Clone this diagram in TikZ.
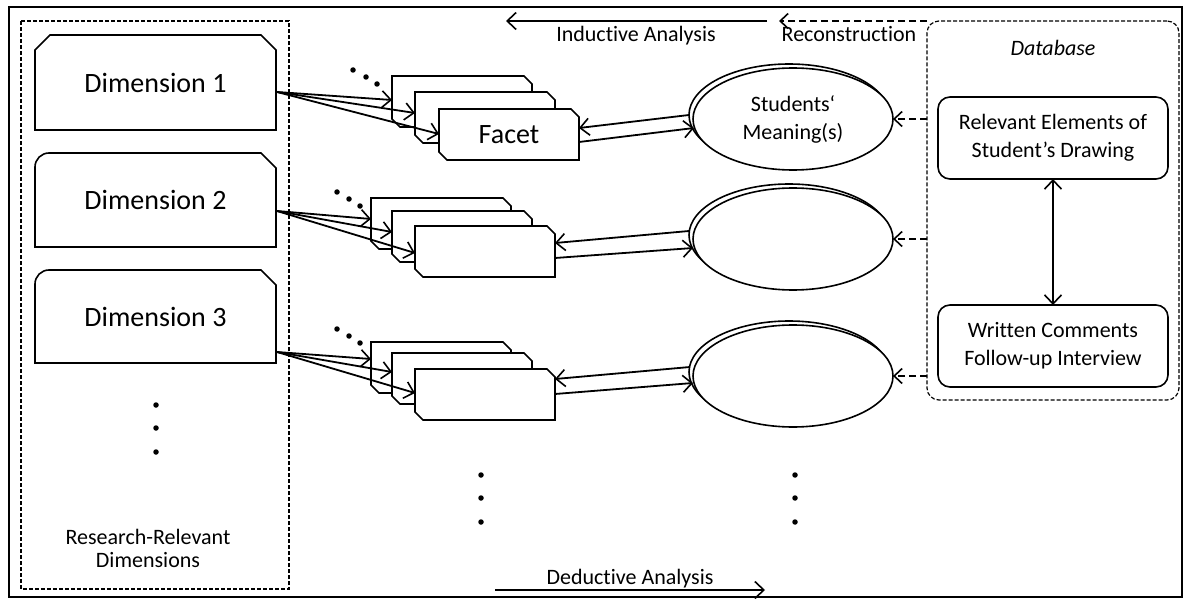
\documentclass[tikz,border=0pt]{standalone}
\usepackage{fontspec}
\setmainfont{Carlito}[Ligatures=NoCommon]
\usetikzlibrary{arrows.meta,shapes.geometric,calc}

\tikzset{
  boxline/.style={line width=1.6pt, draw=black},
  thindash/.style={line width=1.2pt, dash pattern=on 4pt off 2pt},
  barb/.style={-{Straight Barb[length=9pt,width=17pt,line width=1.6pt]}},
  conn/.style={line width=1.8pt, barb},
  dblconn/.style={line width=1.8pt, {Straight Barb[length=9pt,width=17pt,line width=1.6pt]}-{Straight Barb[length=9pt,width=17pt,line width=1.6pt]}},
  dasharrow/.style={line width=1.8pt, dash pattern=on 7pt off 4pt, -{Straight Barb[length=8pt,width=15pt,line width=1.6pt]}},
  bigtext/.style={font=\fontsize{28}{32}\selectfont},
  smalltext/.style={font=\fontsize{22}{28}\selectfont, align=center, inner sep=0pt},
  dimnode/.style={rectangle, minimum width=241pt, inner sep=0pt, outer sep=0pt, bigtext},
  facetnode/.style={rectangle, minimum width=140pt, minimum height=51pt, inner sep=0pt, outer sep=0pt, bigtext},
  meaning/.style={ellipse, draw, line width=1.6pt, fill=white, minimum width=200pt, minimum height=102pt, inner sep=0pt, outer sep=0pt, smalltext},
  dbitem/.style={rectangle, draw, line width=1.6pt, rounded corners=12pt, minimum width=230pt, minimum height=82pt, inner sep=0pt, outer sep=0pt, smalltext},
  dotmark/.style={circle, fill=black, inner sep=0pt, minimum size=5.5pt},
}

% chamfered facet card: name, left x, top y, label
\newcommand\facetcard[4]{%
  \draw[boxline,fill=white] (#2,#3) -- ({#2+132},#3) -- ({#2+140},{#3+8}) -- ({#2+140},{#3+51})
    -- ({#2+8},{#3+51}) -- (#2,{#3+43}) -- cycle;
  \node[facetnode] (#1) at ({#2+70},{#3+25.5}) {#4};
}

\begin{document}
\begin{tikzpicture}[x=1pt,y=-1pt]
\useasboundingbox (0,0) rectangle (1184,599);

% outer frame
\draw[line width=2pt] (9,7) rectangle (1182,597);

% research-relevant dimensions
\draw[thindash] (21,21) rectangle (289,589);

\draw[boxline] (35,130) -- (35,50) -- (50,35) -- (261,35) -- (276,50) -- (276,130) -- cycle;
\node[dimnode, minimum height=95pt] (d1) at (155.5,82.5) {Dimension 1};
\draw[boxline] (35,247) [rounded corners=14pt] -- (35,153) [sharp corners] -- (261,153) -- (276,168) -- (276,247) -- cycle;
\node[dimnode, minimum height=94pt] (d2) at (155.5,200) {Dimension 2};
\draw[boxline] (35,363) [rounded corners=14pt] -- (35,270) [sharp corners] -- (261,270) -- (276,285) -- (276,363) -- cycle;
\node[dimnode, minimum height=93pt] (d3) at (155.5,316.5) {Dimension 3};

\node[dotmark] (ld1) at (156,405) {};
\node[dotmark] (ld2) at (156,428) {};
\node[dotmark] (ld3) at (156,452) {};
\node[smalltext, font=\fontsize{22}{23}\selectfont] (rrd) at (148,548) {Research-Relevant\\Dimensions};

% facet stacks
\facetcard{f11}{392}{76}{}
\facetcard{f12}{415}{92}{}
\facetcard{f13}{439}{109}{Facet}

\facetcard{f21}{371}{198}{}
\facetcard{f22}{392}{211}{}
\facetcard{f23}{415}{226}{}

\facetcard{f31}{371}{342}{}
\facetcard{f32}{392}{353}{}
\facetcard{f33}{415}{369}{}

% dimension -> facets
\coordinate (s1) at ($(d1.north east)+(1,57)$);
\draw[conn] (s1) -- ($(f11.north west)+(0,24)$);
\draw[conn] (s1) -- ($(f12.north west)+(0,21)$);
\draw[conn] (s1) -- ($(f13.north west)+(0,25)$);
\coordinate (s2) at ($(d2.north east)+(1,58)$);
\draw[conn] (s2) -- ($(f21.north west)+(0,21)$);
\draw[conn] (s2) -- ($(f22.north west)+(0,21)$);
\draw[conn] (s2) -- ($(f23.north west)+(0,27)$);
\coordinate (s3) at ($(d3.north east)+(1,82)$);
\draw[conn] (s3) -- ($(f31.north west)+(0,17)$);
\draw[conn] (s3) -- ($(f32.north west)+(0,19)$);
\draw[conn] (s3) -- ($(f33.north west)+(0,24)$);

% further facets
\node[dotmark] (fd11) at (353,70) {};
\node[dotmark] (fd12) at (366,77) {};
\node[dotmark] (fd13) at (377,84) {};
\node[dotmark] (fd21) at (337,192) {};
\node[dotmark] (fd22) at (349,199) {};
\node[dotmark] (fd23) at (360,206) {};
\node[dotmark] (fd31) at (337,329) {};
\node[dotmark] (fd32) at (349,336) {};
\node[dotmark] (fd33) at (360,343) {};

% students' meanings
\draw[line width=1.6pt] (789,115) ellipse [x radius=100, y radius=51];
\node[meaning] (m1) at (793,119) {Students‘\\Meaning(s)};
\draw[line width=1.6pt] (789,235) ellipse [x radius=100, y radius=51];
\node[meaning] (m2) at (793,239) {};
\draw[line width=1.6pt] (789,372) ellipse [x radius=100, y radius=51];
\node[meaning] (m3) at (793,376) {};

% facet <-> meaning
\draw[conn] ($(m1.west)+(-4,-4)$) -- ($(f13.north east)+(0,19)$);
\draw[conn] ($(f13.north east)+(0,33)$) -- ($(m1.west)+(1,9)$);
\draw[conn] ($(m2.west)+(-4,-8)$) -- ($(f23.north east)+(0,17)$);
\draw[conn] ($(f23.north east)+(0,32)$) -- ($(m2.west)+(0,9)$);
\draw[conn] ($(m3.west)+(-3,-9)$) -- ($(f33.north east)+(0,10)$);
\draw[conn] ($(f33.north east)+(0,25)$) -- ($(m3.west)+(0,7)$);

\node[dotmark] (md1) at (481,475) {};
\node[dotmark] (md2) at (481,498) {};
\node[dotmark] (md3) at (481,522) {};
\node[dotmark] (rd1) at (795,475) {};
\node[dotmark] (rd2) at (795,498) {};
\node[dotmark] (rd3) at (795,522) {};

% database
\node[rectangle, draw, thindash, rounded corners=12pt, minimum width=252pt, minimum height=379pt, inner sep=0pt, outer sep=0pt] (db) at (1053,210.5) {};
\node[smalltext, font=\fontsize{22}{28}\selectfont\itshape, anchor=base] (dbt) at (1053,56) {Database};
\node[dbitem] (rel) at (1053,138) {Relevant Elements of\\Student’s Drawing};
\node[dbitem] (wri) at (1053,346) {Written Comments\\Follow-up Interview};
\draw[dblconn] (rel) -- (wri);

\draw[dasharrow] (db.west |- m1.east) -- (m1.east);
\draw[dasharrow] (db.west |- m2.east) -- (m2.east);
\draw[dasharrow] (db.west |- m3.east) -- (m3.east);

% analysis directions
\coordinate (indR) at (767,21);
\coordinate (indL) at (506,21);
\draw[conn] (indR) -- (indL);
\node[smalltext, anchor=base] (indt) at (636,42) {Inductive Analysis};
\coordinate (recL) at (779,21);
\draw[dasharrow] (db.north west) -- (recL);
\node[smalltext, anchor=base] (rect) at (849,42) {Reconstruction};
\coordinate (dedL) at (495,590);
\coordinate (dedR) at (765,590);
\draw[conn] (dedL) -- (dedR);
\node[smalltext, anchor=base] (dedt) at (630,584) {Deductive Analysis};
\end{tikzpicture}
\end{document}
